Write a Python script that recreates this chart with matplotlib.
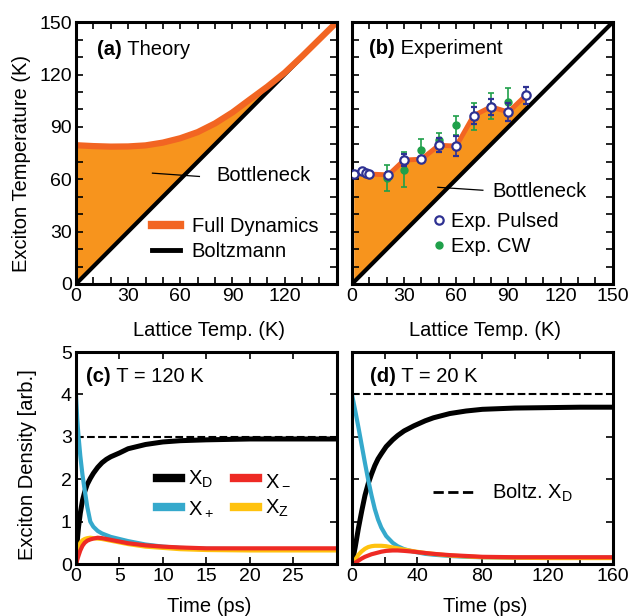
import matplotlib
matplotlib.use('Agg')
import matplotlib.pyplot as plt
from matplotlib.lines import Line2D

plt.rcParams['font.family'] = ['Liberation Sans', 'DejaVu Sans']
plt.rcParams['mathtext.default'] = 'regular'

# (a) theory: lattice temp vs exciton temp (full dynamics)
lat_a = [0, 10, 20, 30, 40, 50, 60, 70, 80, 90, 100, 110, 120, 130, 140, 150]
exc_a = [79.5, 79, 78.7, 78.8, 79.4, 81, 83.5, 87, 92, 98.3, 105.7, 113, 121, 130.4, 140.2, 150]

# (b) experiment
lat_pulsed = [1, 6, 8, 10, 21, 30, 40, 50, 60, 70, 80, 90, 100]
exc_pulsed = [63, 64.5, 63.5, 63, 62.5, 71, 71.5, 79.5, 79, 96.5, 101.5, 98.5, 108]
err_pulsed = [1, 1, 1, 1, 1.5, 3.5, 1, 4, 5.5, 5, 4.5, 5, 5]
lat_cw = [20, 30, 40, 50, 60, 70, 80, 90]
exc_cw = [60.5, 65.5, 77, 82.5, 91, 96, 102, 104.5]
err_cw = [7.5, 10, 6, 4, 5.5, 7.5, 7.5, 7.5]

# (c) T = 120 K dynamics
t_c = [0, 0.15, 0.3, 0.5, 0.75, 1.0, 1.3, 1.65, 2.0, 2.5, 3.0, 3.5, 4.0, 5, 6, 8, 10, 12, 15, 20, 25, 30]
xd_c = [0, 0.55, 0.88, 1.2, 1.5, 1.7, 1.88, 2.02, 2.14, 2.28, 2.39, 2.47, 2.53, 2.62, 2.72, 2.82, 2.88, 2.91, 2.93, 2.95, 2.95, 2.95]
xp_c = [4.0, 3.4, 3.0, 2.55, 2.1, 1.75, 1.35, 1.0, 0.88, 0.78, 0.72, 0.68, 0.64, 0.59, 0.54, 0.46, 0.41, 0.38, 0.36, 0.35, 0.35, 0.35]
xm_c = [0, 0.1, 0.2, 0.32, 0.43, 0.5, 0.55, 0.58, 0.6, 0.62, 0.61, 0.59, 0.57, 0.53, 0.49, 0.44, 0.41, 0.39, 0.37, 0.37, 0.37, 0.37]
xz_c = [0, 0.25, 0.4, 0.5, 0.56, 0.59, 0.61, 0.62, 0.61, 0.6, 0.59, 0.57, 0.55, 0.51, 0.47, 0.41, 0.38, 0.35, 0.33, 0.32, 0.32, 0.32]

# (d) T = 20 K dynamics
t_d = [0, 2, 4, 6, 8, 10, 12, 14, 16, 18, 21, 25, 28, 32, 38, 45, 50, 60, 70, 80, 100, 120, 140, 160]
xd_d = [0, 0.4, 0.85, 1.25, 1.62, 1.9, 2.12, 2.32, 2.48, 2.6, 2.77, 2.93, 3.03, 3.14, 3.26, 3.38, 3.45, 3.55, 3.61, 3.65, 3.68, 3.69, 3.7, 3.7]
xp_d = [4.0, 3.62, 3.22, 2.8, 2.38, 1.98, 1.62, 1.3, 1.05, 0.86, 0.66, 0.5, 0.42, 0.35, 0.29, 0.24, 0.22, 0.19, 0.17, 0.16, 0.15, 0.15, 0.15, 0.15]
xz_d = [0, 0.1, 0.22, 0.3, 0.36, 0.4, 0.42, 0.43, 0.43, 0.43, 0.42, 0.39, 0.37, 0.34, 0.3, 0.26, 0.24, 0.2, 0.18, 0.16, 0.15, 0.14, 0.14, 0.14]
xm_d = [0, 0.03, 0.08, 0.13, 0.17, 0.2, 0.23, 0.25, 0.27, 0.29, 0.31, 0.32, 0.32, 0.31, 0.29, 0.26, 0.24, 0.21, 0.19, 0.17, 0.16, 0.16, 0.16, 0.16]

boltz_c = 3.0
boltz_d = 4.0

FILL = '#F7941D'
CURVE = '#F26522'
CYAN = '#35A9CC'
RED = '#EE2A24'
YEL = '#FFC20E'
BLUE = '#2E3192'
GREEN = '#1FA04A'
FS = 14.5

fig = plt.figure(figsize=(6.33, 6.16), dpi=100)
ax_a = fig.add_axes([0.120, 0.539, 0.412, 0.425])
ax_b = fig.add_axes([0.556, 0.539, 0.412, 0.425])
ax_c = fig.add_axes([0.120, 0.0844, 0.412, 0.344])
ax_d = fig.add_axes([0.556, 0.0844, 0.412, 0.344])


def style(ax):
    for s in ax.spines.values():
        s.set_linewidth(2.2)
    ax.tick_params(which='both', direction='in', top=True, right=True,
                   length=5, width=1.2, labelsize=14, pad=3)


def xlab(ax, txt, y):
    ax.set_xlabel(txt, fontsize=FS)
    ax.xaxis.set_label_coords(0.51, y)
    ax.xaxis.label.set_va('center')


def ylab(ax, txt, x, y):
    ax.set_ylabel(txt, fontsize=FS)
    ax.yaxis.set_label_coords(x, y)
    ax.yaxis.label.set_va('center')


def panel_title(ax, tag, rest, x, y):
    t = ax.text(x, y, tag, fontsize=FS, fontweight='bold', va='baseline')
    ax.annotate(rest, xy=(1, 0), xycoords=t, fontsize=FS, va='bottom')


# ---- (a) theory
ax = ax_a
ax.fill_between(lat_a, exc_a, lat_a, color=FILL, lw=0)
ax.plot([0, 150], [0, 150], color='k', lw=3, solid_capstyle='butt')
ax.plot(lat_a, exc_a, color=CURVE, lw=4.5)
ax.set_xlim(0, 150)
ax.set_ylim(0, 150)
ax.set_xticks([0, 30, 60, 90, 120])
ax.set_xticks(range(0, 151, 10), minor=True)
ax.set_yticks(range(0, 151, 30))
ax.set_yticks(range(0, 151, 10), minor=True)
style(ax)
xlab(ax, 'Lattice Temp. (K)', -0.176)
ylab(ax, 'Exciton Temperature (K)', -0.207, 0.46)
panel_title(ax, '(a)', ' Theory', 12, 131)
ax.plot([44, 71], [63.5, 61.6], color='k', lw=0.9)
ax.text(81, 62, 'Bottleneck', fontsize=FS, va='center')
h = [Line2D([], [], color=CURVE, lw=6), Line2D([], [], color='k', lw=3.5)]
ax.legend(h, ['Full Dynamics', 'Boltzmann'], loc='center left',
          bbox_to_anchor=(0.29, 0.17), frameon=False, fontsize=FS,
          handlelength=1.4, handletextpad=0.6, labelspacing=0.3,
          borderpad=0, borderaxespad=0)

# ---- (b) experiment
ax = ax_b
ax.fill_between(lat_pulsed, exc_pulsed, lat_pulsed, color=FILL, lw=0)
ax.plot([0, 150], [0, 150], color='k', lw=3, solid_capstyle='butt')
ax.plot(lat_pulsed, exc_pulsed, color=CURVE, lw=3.5, zorder=3)
ax.errorbar(lat_cw, exc_cw, yerr=err_cw, fmt='o', color=GREEN, ms=5,
            elinewidth=1.2, capsize=2, capthick=1.2, zorder=4)
ax.errorbar(lat_pulsed, exc_pulsed, yerr=err_pulsed, fmt='o', color=BLUE,
            mfc='white', mec=BLUE, ms=6, mew=1.6, elinewidth=1.2,
            capsize=2, capthick=1.2, zorder=5)
ax.set_xlim(0, 150)
ax.set_ylim(0, 150)
ax.set_xticks(range(0, 151, 30))
ax.set_xticks(range(0, 151, 10), minor=True)
ax.set_yticks(range(0, 151, 30))
ax.set_yticks(range(0, 151, 10), minor=True)
style(ax)
ax.tick_params(labelleft=False)
xlab(ax, 'Lattice Temp. (K)', -0.176)
panel_title(ax, '(b)', ' Experiment', 10, 132)
ax.plot([49.4, 75.3], [55.4, 53.7], color='k', lw=0.9)
ax.text(81, 53, 'Bottleneck', fontsize=FS, va='center')
h = [Line2D([], [], ls='none', marker='o', mfc='white', mec=BLUE, ms=6, mew=1.6),
     Line2D([], [], ls='none', marker='o', color=GREEN, ms=5)]
ax.legend(h, ['Exp. Pulsed', 'Exp. CW'], loc='center left',
          bbox_to_anchor=(0.31, 0.19), frameon=False, fontsize=FS,
          handlelength=0.6, handletextpad=0.3, labelspacing=0.3,
          borderpad=0, borderaxespad=0)

# ---- (c) T = 120 K
ax = ax_c
ax.axhline(boltz_c, color='k', lw=1.5, ls='--')
ax.plot(t_c, xd_c, color='k', lw=3.6)
ax.plot(t_c, xp_c, color=CYAN, lw=3)
ax.plot(t_c, xz_c, color=YEL, lw=3)
ax.plot(t_c, xm_c, color=RED, lw=3)
ax.set_xlim(0, 30)
ax.set_ylim(0, 5)
ax.set_xticks([0, 5, 10, 15, 20, 25])
ax.set_xticks([30], minor=True)
ax.set_yticks(range(0, 6))
style(ax)
xlab(ax, 'Time (ps)', -0.2)
ylab(ax, 'Exciton Density [arb.]', -0.184, 0.47)
panel_title(ax, '(c)', ' T = 120 K', 1.2, 4.3)
hl = [Line2D([], [], color='k', lw=6), Line2D([], [], color=CYAN, lw=6),
      Line2D([], [], color=RED, lw=6), Line2D([], [], color=YEL, lw=6)]
ax.legend(hl, ['X$_D$', 'X$_+$', 'X$_-$', 'X$_Z$'], ncol=2, loc='center left',
          bbox_to_anchor=(0.31, 0.33), frameon=False, fontsize=FS,
          handlelength=1.2, handletextpad=0.35, columnspacing=1.0,
          labelspacing=0.45, borderpad=0, borderaxespad=0)

# ---- (d) T = 20 K
ax = ax_d
ax.axhline(boltz_d, color='k', lw=1.5, ls='--')
ax.plot(t_d, xd_d, color='k', lw=3.6)
ax.plot(t_d, xp_d, color=CYAN, lw=3)
ax.plot(t_d, xz_d, color=YEL, lw=3)
ax.plot(t_d, xm_d, color=RED, lw=3)
ax.set_xlim(0, 160)
ax.set_ylim(0, 5)
ax.set_xticks([0, 40, 80, 120, 160])
ax.set_xticks(range(0, 161, 20), minor=True)
ax.set_yticks(range(0, 6))
style(ax)
ax.tick_params(labelleft=False)
xlab(ax, 'Time (ps)', -0.2)
panel_title(ax, '(d)', ' T = 20 K', 11, 4.3)
ax.legend([Line2D([], [], color='k', lw=2, ls='--')], ['Boltz. X$_D$'],
          loc='center left', bbox_to_anchor=(0.31, 0.336), frameon=False,
          fontsize=FS, handlelength=2.1, handletextpad=0.85,
          borderpad=0, borderaxespad=0)

fig.savefig('out.png', dpi=100)
